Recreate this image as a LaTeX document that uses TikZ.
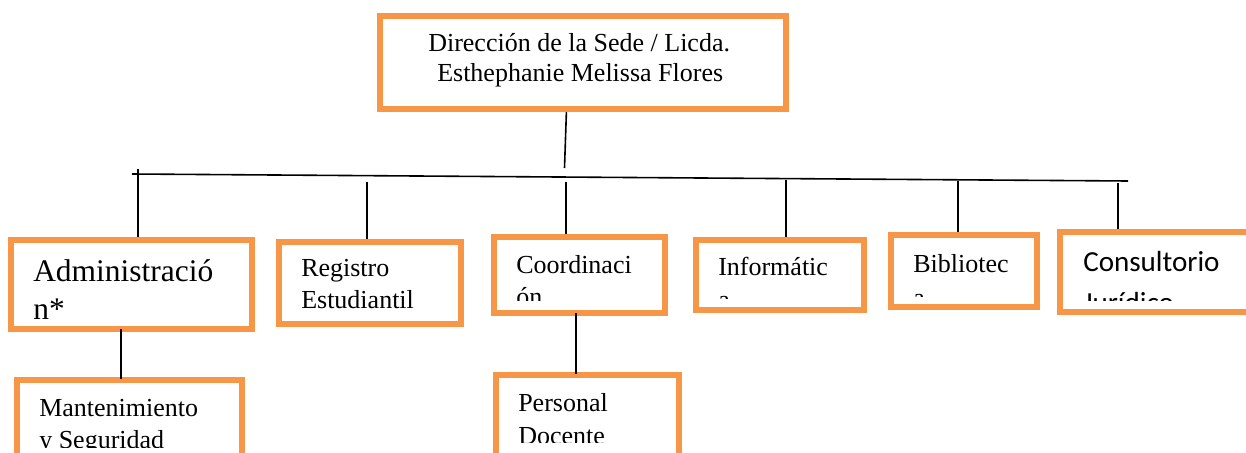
\documentclass[tikz,border=0pt]{standalone}
\usepackage{fontspec}
\setmainfont{Liberation Serif}
\newfontfamily\calibrifont{Carlito}
\usetikzlibrary{fit}
\definecolor{boxorange}{RGB}{247,150,70}
\begin{document}
\begin{tikzpicture}[x=0.75pt,y=-0.75pt,
  obox/.style={draw=boxorange, line width=4.5pt, fill=white, inner sep=0pt, outer sep=0pt},
  conn/.style={draw=black, line width=1.2pt},
  txt/.style={anchor=base west, inner sep=0pt, font=\fontsize{19.5}{22}\selectfont},
  bigtxt/.style={anchor=base west, inner sep=0pt, font=\fontsize{23.6}{27}\selectfont},
  sanstxt/.style={anchor=base west, inner sep=0pt, font=\calibrifont\fontsize{21.8}{25}\selectfont}]
\useasboundingbox (0,0) rectangle (1246,453);

% connector end points
\coordinate (dirOut) at (566.5,109);
\coordinate (dirIn) at (564.5,168);
\coordinate (barL) at (132,174);
\coordinate (barR) at (1128,181);
\coordinate (admTop) at (137.7,169);
\coordinate (regTop) at (367,182);
\coordinate (cooTop) at (566,182);
\coordinate (infTop) at (786,180);
\coordinate (bibTop) at (958,180.5);
\coordinate (conTop) at (1118,183);

% connectors
\draw[conn] (dirOut) -- (dirIn);
\draw[conn] (barL) -- (barR);
\draw[conn] (admTop) -- (137.7,238);
\draw[conn] (regTop) -- (367,240);
\draw[conn] (cooTop) -- (566,236);
\draw[conn] (infTop) -- (786,239);
\draw[conn] (bibTop) -- (958,234);
\draw[conn] (conTop) -- (1118,231);

% boxes
\node[obox, fit={(380,16) (786,109)}] (dir) {};
\node[obox, fit={(11,240) (252,329)}] (adm) {};
\node[obox, fit={(279,242) (461,324)}] (reg) {};
\node[obox, fit={(494,237) (665,313)}] (coo) {};
\node[obox, fit={(696,240) (864,310)}] (inf) {};
\node[obox, fit={(891,235) (1037,307)}] (bib) {};
\node[obox, fit={(1060,232) (1258,312)}] (con) {};
\node[obox, fit={(17,380) (242,470)}] (man) {};
\node[obox, fit={(496,375) (679,470)}] (per) {};

% lower connectors
\draw[conn] (121,329) coordinate (admOut) -- (121,379) coordinate (manIn);
\draw[conn] (576,313) coordinate (cooOut) -- (576,374) coordinate (perIn);

% texts
\node[txt] (dirA) at (428,52) {Dirección de la Sede / Licda.};
\node[txt] (dirB) at (437,82) {Esthephanie Melissa Flores};

\node[bigtxt] (admA) at (33,281) {Administració};
\node[bigtxt] (admB) at (33,319) {n*};

\node[txt] (regA) at (301,276) {Registro};
\node[txt] (regB) at (301,308) {Estudiantil};

\begin{scope}
\clip (499,241) rectangle (661,300.7);
\node[txt] (cooA) at (516,273) {Coordinaci};
\node[txt] (cooB) at (516,305) {ón};
\end{scope}

\begin{scope}
\clip (701,244) rectangle (860,298.5);
\node[txt] (infA) at (718,275) {Informátic};
\node[txt] (infB) at (718,308) {a};
\end{scope}

\begin{scope}
\clip (896,239) rectangle (1033,296.5);
\node[txt] (bibA) at (913,272) {Bibliotec};
\node[txt] (bibB) at (913,306) {a};
\end{scope}

\begin{scope}
\clip (1064,236) rectangle (1246,300);
\node[sanstxt] (conA) at (1083,271) {Consultorio};
\node[sanstxt] (conB) at (1083,312) {Jurídico};
\end{scope}

\begin{scope}
\clip (21,384) rectangle (238,447.3);
\node[txt] (manA) at (39,416) {Mantenimiento};
\node[txt] (manB) at (39,448) {y Seguridad};
\end{scope}

\begin{scope}
\clip (500,379) rectangle (675,442);
\node[txt] (perA) at (518,411) {Personal};
\node[txt] (perB) at (518,444) {Docente};
\end{scope}
\end{tikzpicture}
\end{document}
